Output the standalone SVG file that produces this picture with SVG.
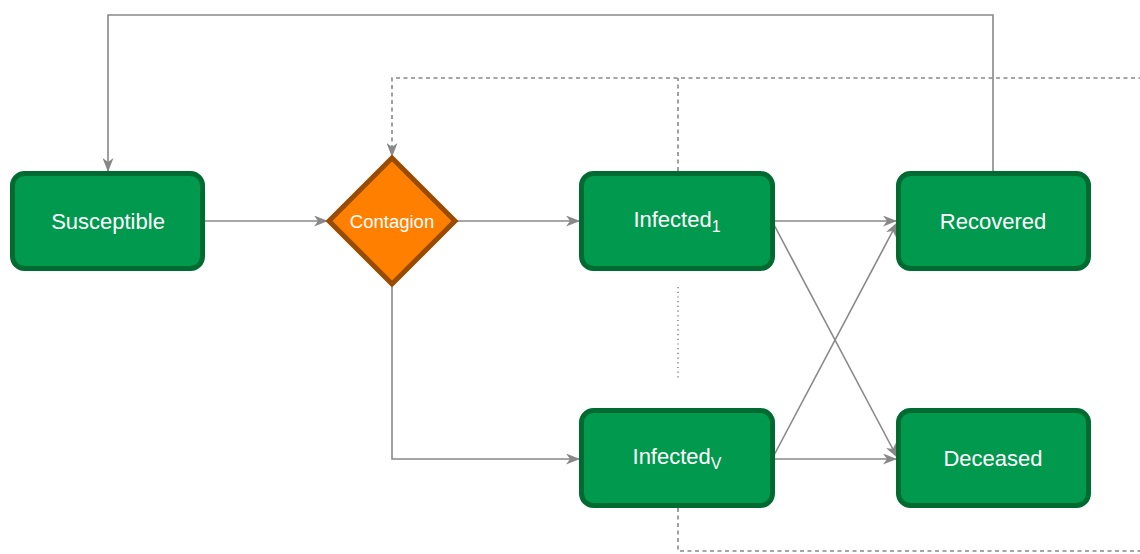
<svg xmlns="http://www.w3.org/2000/svg" width="1140" height="554" viewBox="0 0 1140 554">
<style>
.box{fill:#00994D;stroke:#006B30;stroke-width:5}
.dia{fill:#FF8000;stroke:#994C00;stroke-width:5}
.lbl{font-family:"Liberation Sans",Arial,sans-serif;font-size:22px;fill:#ffffff;text-anchor:middle}
.sub{font-size:16px}
.ln{fill:none;stroke:#888888;stroke-width:1.6}
.dash{stroke-dasharray:4 3.5}
.dot{stroke-dasharray:1.2 3.5}
</style>
<defs>
<marker id="ar" viewBox="0 0 14 11" refX="13" refY="5.5" markerWidth="14" markerHeight="11" markerUnits="userSpaceOnUse" orient="auto">
<path d="M0,0 L14,5.5 L0,11 L4,5.5 z" fill="#888888"/>
</marker>
</defs>
<g id="connectors">
<path class="ln" d="M205,221 L327,221" marker-end="url(#ar)"/>
<path class="ln" d="M457,221 L579,221" marker-end="url(#ar)"/>
<path class="ln" d="M392,287 L392,459 L579,459" marker-end="url(#ar)"/>
<path class="ln" d="M775,221 L896,221" marker-end="url(#ar)"/>
<path class="ln" d="M775,459 L896,459" marker-end="url(#ar)"/>
<path class="ln" d="M772,221 L897,457" marker-end="url(#ar)"/>
<path class="ln" d="M772,459 L897,223" marker-end="url(#ar)"/>
<path class="ln" d="M993,171 L993,15 L108,15 L108,171" marker-end="url(#ar)"/>
<path class="ln dash" d="M1150,78 L392,78 L392,156" marker-end="url(#ar)"/>
<path class="ln dash" d="M678,171 L678,78"/>
<path class="ln dash" d="M678,508 L678,551 L1150,551"/>
<path class="ln dot" d="M678,287 L678,381"/>
</g>
<g id="susceptible">
<rect class="box" x="12.5" y="173.5" width="190" height="95" rx="12"/>
<text class="lbl" x="108" y="228.5">Susceptible</text>
</g>
<g id="contagion">
<path class="dia" d="M392,158 L455,221 L392,284 L329,221 z"/>
<text class="lbl" x="392" y="227.5" style="font-size:18.5px">Contagion</text>
</g>
<g id="infected1">
<rect class="box" x="581.5" y="173.5" width="191" height="95" rx="12"/>
<text class="lbl" x="677" y="227">Infected<tspan class="sub" dy="5">1</tspan></text>
</g>
<g id="infectedV">
<rect class="box" x="581.5" y="410.5" width="191" height="95" rx="12"/>
<text class="lbl" x="677" y="464">Infected<tspan class="sub" dy="5">V</tspan></text>
</g>
<g id="recovered">
<rect class="box" x="898.5" y="173.5" width="190" height="95" rx="12"/>
<text class="lbl" x="993" y="228.5">Recovered</text>
</g>
<g id="deceased">
<rect class="box" x="898.5" y="410.5" width="190" height="95" rx="12"/>
<text class="lbl" x="993" y="466">Deceased</text>
</g>
</svg>
